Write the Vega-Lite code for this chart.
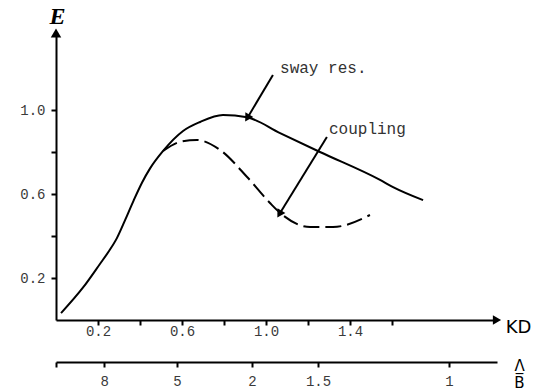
{
  "$schema": "https://vega.github.io/schema/vega-lite/v6.json",
  "width": 441,
  "height": 287,
  "autosize": {"type": "none"},
  "padding": {"left": 56, "top": 33, "right": 50, "bottom": 71},
  "background": "white",
  "config": {
    "view": {"stroke": null},
    "axis": {
      "grid": false,
      "domainColor": "black",
      "domainWidth": 2,
      "tickColor": "black",
      "tickWidth": 2,
      "tickSize": 5,
      "labelFont": "Liberation Mono",
      "labelFontSize": 14,
      "labelColor": "#3a3a3a",
      "labelOverlap": false,
      "labelFlush": false,
      "titleColor": "black"
    }
  },
  "datasets": {
    "curves": [
      {"series": "sway res.", "kd": 0.024, "e": 0.033},
      {"series": "sway res.", "kd": 0.129, "e": 0.155},
      {"series": "sway res.", "kd": 0.21, "e": 0.268},
      {"series": "sway res.", "kd": 0.25, "e": 0.325},
      {"series": "sway res.", "kd": 0.29, "e": 0.39},
      {"series": "sway res.", "kd": 0.33, "e": 0.478},
      {"series": "sway res.", "kd": 0.37, "e": 0.57},
      {"series": "sway res.", "kd": 0.41, "e": 0.655},
      {"series": "sway res.", "kd": 0.448, "e": 0.722},
      {"series": "sway res.", "kd": 0.51, "e": 0.805},
      {"series": "sway res.", "kd": 0.605, "e": 0.9},
      {"series": "sway res.", "kd": 0.686, "e": 0.943},
      {"series": "sway res.", "kd": 0.795, "e": 0.976},
      {"series": "sway res.", "kd": 0.91, "e": 0.965},
      {"series": "sway res.", "kd": 1.067, "e": 0.89},
      {"series": "sway res.", "kd": 1.257, "e": 0.8},
      {"series": "sway res.", "kd": 1.543, "e": 0.667},
      {"series": "sway res.", "kd": 1.605, "e": 0.633},
      {"series": "sway res.", "kd": 1.748, "e": 0.571},
      {"series": "coupling", "kd": 0.51, "e": 0.805},
      {"series": "coupling", "kd": 0.59, "e": 0.848},
      {"series": "coupling", "kd": 0.671, "e": 0.857},
      {"series": "coupling", "kd": 0.781, "e": 0.81},
      {"series": "coupling", "kd": 0.91, "e": 0.681},
      {"series": "coupling", "kd": 1.019, "e": 0.557},
      {"series": "coupling", "kd": 1.067, "e": 0.51},
      {"series": "coupling", "kd": 1.21, "e": 0.443},
      {"series": "coupling", "kd": 1.319, "e": 0.443},
      {"series": "coupling", "kd": 1.495, "e": 0.5}
    ],
    "notes": [
      {"label": "sway res.", "kd": 1.067, "e": 1.175},
      {"label": "coupling", "kd": 1.3, "e": 0.886}
    ],
    "pointers": [
      {"label": "sway res.", "kd": 1.033, "e": 1.167, "kd2": 0.914, "e2": 0.967},
      {"label": "coupling", "kd": 1.29, "e": 0.871, "kd2": 1.067, "e2": 0.51}
    ],
    "axisEnds": [
      {"axis": "E", "kd": 0, "e": 1.3667},
      {"axis": "KD", "kd": 2.1, "e": 0}
    ]
  },
  "resolve": {"scale": {"x": "independent"}},
  "layer": [
    {
      "data": {"name": "curves"},
      "transform": [{"filter": "datum.series === 'sway res.'"}],
      "mark": {"type": "line", "color": "black", "strokeWidth": 2, "interpolate": "monotone"},
      "encoding": {
        "x": {
          "field": "kd",
          "type": "quantitative",
          "scale": {"domain": [0, 2.1], "nice": false, "zero": false},
          "axis": {
            "title": "KD",
            "titleX": 462,
            "titleY": 7,
            "titleAlign": "center",
            "titleBaseline": "middle",
            "titleFont": "DejaVu Sans",
            "titleFontSize": 18,
            "titleFontWeight": "normal",
            "values": [0.2, 0.4, 0.6, 0.8, 1.0, 1.2, 1.4, 1.6],
            "format": ".1f",
            "labelExpr": "indexof(['0.2', '0.6', '1.0', '1.4'], datum.label) >= 0 ? datum.label : ''",
            "labelPadding": -1
          }
        },
        "y": {
          "field": "e",
          "type": "quantitative",
          "scale": {"domain": [0, 1.3667], "nice": false, "zero": false},
          "axis": {
            "title": "E",
            "titleAngle": 0,
            "titleX": 1,
            "titleY": -17,
            "titleAlign": "center",
            "titleBaseline": "middle",
            "titleFont": "Liberation Serif",
            "titleFontSize": 24,
            "titleFontWeight": "bold",
            "titleFontStyle": "italic",
            "values": [0.2, 0.4, 0.6, 0.8, 1.0],
            "format": ".1f",
            "labelExpr": "indexof(['0.2', '0.6', '1.0'], datum.label) >= 0 ? datum.label : ''",
            "labelPadding": 6
          }
        }
      }
    },
    {
      "data": {"name": "curves"},
      "transform": [{"filter": "datum.series === 'coupling'"}],
      "mark": {"type": "line", "color": "black", "strokeWidth": 2, "strokeDash": [16, 6], "interpolate": "monotone"},
      "encoding": {
        "x": {"field": "kd", "type": "quantitative", "scale": {"domain": [0, 2.1], "nice": false, "zero": false}, "axis": null},
        "y": {"field": "e", "type": "quantitative"}
      }
    },
    {
      "data": {"name": "pointers"},
      "mark": {"type": "rule", "color": "black", "strokeWidth": 2},
      "encoding": {
        "x": {"field": "kd", "type": "quantitative", "scale": {"domain": [0, 2.1], "nice": false, "zero": false}, "axis": null},
        "y": {"field": "e", "type": "quantitative"},
        "x2": {"field": "kd2"},
        "y2": {"field": "e2"}
      }
    },
    {
      "data": {"name": "pointers"},
      "mark": {"type": "point", "shape": "triangle", "filled": true, "color": "black", "size": 85, "angle": 211, "opacity": 1},
      "encoding": {
        "x": {"field": "kd2", "type": "quantitative", "scale": {"domain": [0, 2.1], "nice": false, "zero": false}, "axis": null},
        "y": {"field": "e2", "type": "quantitative"}
      }
    },
    {
      "data": {"name": "notes"},
      "mark": {"type": "text", "align": "left", "baseline": "alphabetic", "font": "Liberation Mono", "fontSize": 16, "color": "#333"},
      "encoding": {
        "x": {"field": "kd", "type": "quantitative", "scale": {"domain": [0, 2.1], "nice": false, "zero": false}, "axis": null},
        "y": {"field": "e", "type": "quantitative"},
        "text": {"field": "label"}
      }
    },
    {
      "data": {"name": "axisEnds"},
      "transform": [{"filter": "datum.axis === 'E'"}],
      "mark": {"type": "point", "shape": "triangle-up", "filled": true, "color": "black", "size": 110, "opacity": 1},
      "encoding": {
        "x": {"field": "kd", "type": "quantitative", "scale": {"domain": [0, 2.1], "nice": false, "zero": false}, "axis": null},
        "y": {"field": "e", "type": "quantitative"}
      }
    },
    {
      "data": {"name": "axisEnds"},
      "transform": [{"filter": "datum.axis === 'KD'"}],
      "mark": {"type": "point", "shape": "triangle-right", "filled": true, "color": "black", "size": 90, "opacity": 1},
      "encoding": {
        "x": {
          "field": "kd",
          "type": "quantitative",
          "scale": {"domain": [0, 2.1], "nice": false, "zero": false},
          "axis": {
            "orient": "bottom",
            "offset": 42,
            "title": ["Λ", "B̅"],
            "titleX": 463,
            "titleY": 3,
            "titleAlign": "center",
            "titleBaseline": "middle",
            "titleLineHeight": 17,
            "titleFont": "DejaVu Sans",
            "titleFontSize": 15,
            "titleFontWeight": "normal",
            "values": [0, 0.229, 0.576, 0.933, 1.248, 1.871],
            "labelExpr": "datum.value == 0.229 ? '8' : datum.value == 0.576 ? '5' : datum.value == 0.933 ? '2' : datum.value == 1.248 ? '1.5' : datum.value == 1.871 ? '1' : ''",
            "labelPadding": 7
          }
        },
        "y": {"field": "e", "type": "quantitative"}
      }
    }
  ]
}
